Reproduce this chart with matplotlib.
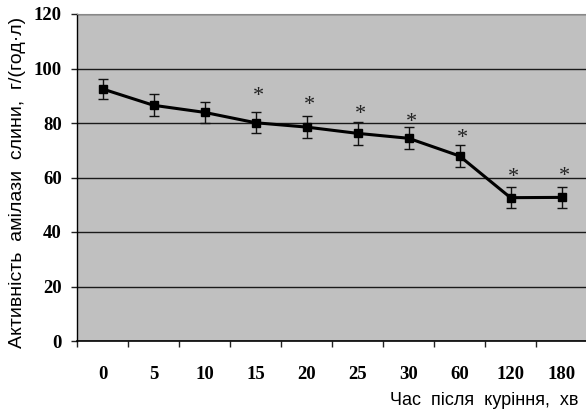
import numpy as np
import matplotlib
matplotlib.use("Agg")
import matplotlib.pyplot as plt
from matplotlib.ticker import FixedLocator, NullFormatter
from matplotlib.transforms import offset_copy

# data
times = ['0', '5', '10', '15', '20', '25', '30', '60', '120', '180']
activity = [92.5, 86.5, 83.9, 80.1, 78.5, 76.2, 74.4, 67.9, 52.6, 52.7]
errors = [3.8, 4.1, 3.9, 3.8, 3.9, 4.1, 4.1, 3.9, 3.8, 3.8]
# significance marks: which points and how high the asterisk sits
signif = [False, False, False, True, True, True, True, True, True, True]
star_y = [0, 0, 0, 92.4, 89.2, 85.9, 82.9, 77.0, 62.8, 63.2]

serif = 'Liberation Serif'
sans = 'Liberation Sans'

fig = plt.figure(figsize=(5.86, 4.16), dpi=100)
ax = fig.add_axes([77/586, 75/416, 510/586, 327/416])
ax.set_facecolor('#c0c0c0')

x = np.arange(len(times))
ax.errorbar(x, activity, yerr=errors, color='black', lw=2.2, marker='s',
            markersize=5.5, ecolor='#111111', elinewidth=1, capsize=3.3,
            capthick=1, zorder=3)

star_fs = 16
# glyph centre of '*' is about half an em above the baseline
star_tr = offset_copy(ax.transData, fig=fig, y=-0.53 * star_fs, units='points')
for i in range(len(times)):
    if signif[i]:
        ax.text(x[i] + 0.05, star_y[i], '*', ha='center', va='baseline',
                transform=star_tr, fontfamily=serif, fontsize=star_fs,
                color='#222222', zorder=4)

ax.set_xlim(-0.5, 9.5)
ax.set_ylim(0, 120)

# category boundaries carry the tick marks, centres carry the labels
ax.xaxis.set_major_locator(FixedLocator(np.arange(-0.5, len(times), 1.0)))
ax.xaxis.set_major_formatter(NullFormatter())
ax.xaxis.set_minor_locator(FixedLocator(x))
ax.set_xticklabels(times, minor=True)
ax.tick_params(axis='x', which='major', direction='out', length=4, width=1,
               color='#222222')
ax.tick_params(axis='x', which='minor', length=0, pad=18)

ax.set_yticks(np.arange(0, 121, 20))
ax.tick_params(axis='y', direction='out', length=4, width=1, color='#222222',
               pad=7)

for lab in ax.get_xticklabels(minor=True) + ax.get_yticklabels():
    lab.set_fontfamily(serif)
    lab.set_fontweight('bold')
    lab.set_fontsize(13.5)

ax.grid(axis='y', color='#1a1a1a', lw=1)
ax.set_axisbelow(True)

ax.spines['right'].set_visible(False)
ax.spines['top'].set_color('#888888')
ax.spines['left'].set_color('black')
ax.spines['bottom'].set_color('black')
ax.spines['left'].set_linewidth(1)
ax.spines['bottom'].set_linewidth(1.2)

fig.text(578/586, 1 - 405/416, 'Час  після  куріння,  хв', ha='right',
         va='baseline', fontfamily=sans, fontsize=13)
fig.text(18/586, 1 - 182/416, 'Активність  амілази  слини,  г/(год·л)',
         rotation=90, ha='center', va='center', fontfamily=sans, fontsize=14)

fig.savefig('out.png', dpi=100)
